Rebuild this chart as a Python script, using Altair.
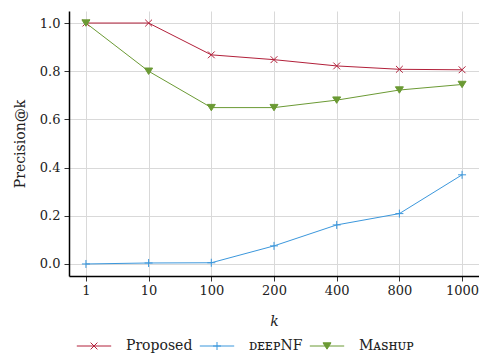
import altair as alt
import pandas as pd

k_labels = ["1", "10", "100", "200", "400", "800", "1000"]
proposed = [1.0, 1.0, 0.868, 0.848, 0.822, 0.808, 0.806]
deepnf = [0.0, 0.004, 0.005, 0.075, 0.162, 0.209, 0.37]
mashup = [1.0, 0.8, 0.649, 0.649, 0.68, 0.722, 0.745]
series_names = ["Proposed", "ᴅᴇᴇᴘNF", "Mᴀꜱʜᴜᴘ"]
colors = ["#b2203a", "#3b97dc", "#6b9a34"]
fills = ["transparent", "transparent", "#6b9a34"]
y_ticks = [0.0, 0.2, 0.4, 0.6, 0.8, 1.0]

marker_paths = [
    "M-0.85,-0.85L0.85,0.85M-0.85,0.85L0.85,-0.85",
    "M-1,0L1,0M0,-1L0,1",
    "M-1,-0.8L1,-0.8L0,0.8Z",
]
legend_paths = [
    "M-4.3,0L4.3,0M-0.85,-0.85L0.85,0.85M-0.85,0.85L0.85,-0.85",
    "M-4.3,0L4.3,0M-1,0L1,0M0,-1L0,1",
    "M-4.3,0L4.3,0M-1,-0.8L1,-0.8L0,0.8Z",
]

rows = []
for name, vals in zip(series_names, [proposed, deepnf, mashup]):
    for k, v in zip(k_labels, vals):
        rows.append({"k": k, "series": name, "value": v})
df = pd.DataFrame(rows)

FONT = "DejaVu Serif"

base = alt.Chart(df).encode(
    x=alt.X(
        "k:N",
        sort=k_labels,
        scale=alt.Scale(type="point", padding=0.27),
        axis=alt.Axis(title="k", titleFontStyle="italic", labelAngle=0, titlePadding=17, labelPadding=3),
    ),
    y=alt.Y(
        "value:Q",
        scale=alt.Scale(domain=[-0.05, 1.05], nice=False, zero=False),
        axis=alt.Axis(title="Precision@k", values=y_ticks, format=".1f", titlePadding=12, labelPadding=4),
    ),
)

lines = base.mark_line(strokeWidth=1).encode(
    color=alt.Color("series:N", scale=alt.Scale(domain=series_names, range=colors), legend=None)
)

points = base.mark_point(size=64, strokeWidth=1, opacity=1).encode(
    stroke=alt.Stroke("series:N", scale=alt.Scale(domain=series_names, range=colors), legend=None),
    fill=alt.Fill("series:N", scale=alt.Scale(domain=series_names, range=fills), legend=None),
    shape=alt.Shape("series:N", scale=alt.Scale(domain=series_names, range=marker_paths), legend=None),
)

leg = alt.Legend(
    title=None,
    orient="none",
    legendX=18,
    legendY=328,
    direction="horizontal",
    symbolSize=64,
    symbolStrokeWidth=1,
    labelOffset=25,
    columnPadding=4,
    labelFont=FONT,
    labelFontSize=14,
    labelColor="#222",
)

legend_layer = alt.Chart(df).transform_filter("false").mark_point(size=64, strokeWidth=1, opacity=1).encode(
    stroke=alt.Stroke("series:N", scale=alt.Scale(domain=series_names, range=colors), legend=leg),
    fill=alt.Fill("series:N", scale=alt.Scale(domain=series_names, range=fills), legend=leg),
    shape=alt.Shape("series:N", scale=alt.Scale(domain=series_names, range=legend_paths), legend=leg),
)

chart = (
    alt.layer(lines, points, legend_layer)
    .resolve_scale(stroke="independent", fill="independent", shape="independent")
    .properties(width=410, height=265, padding={"left": 5, "top": 3, "right": 0, "bottom": 0})
    .configure_view(stroke=None)
    .configure_axis(
        labelFont=FONT,
        labelFontSize=13,
        labelColor="#222",
        titleFont=FONT,
        titleFontSize=14,
        titleFontWeight="normal",
        titleColor="#222",
        grid=True,
        gridColor="#d9d9d9",
        gridWidth=1,
        domainColor="#000",
        domainWidth=1.5,
        tickColor="#333",
        tickSize=5,
    )
)

chart.save("out.html", embed_options={"renderer": "svg", "actions": False})
